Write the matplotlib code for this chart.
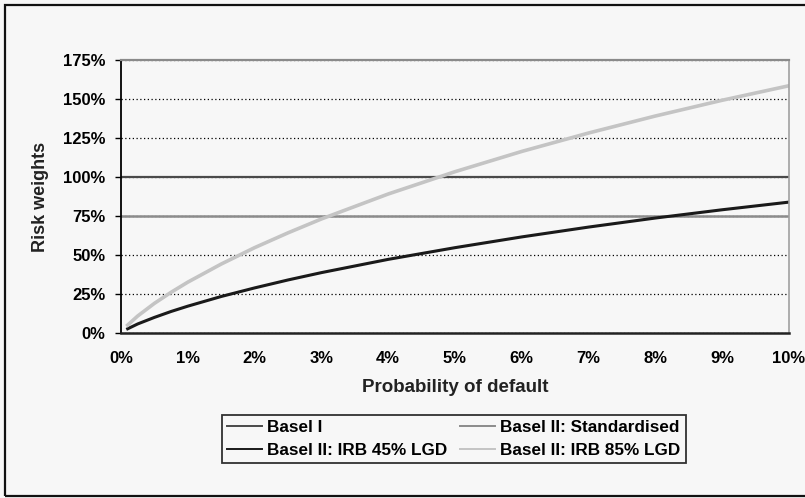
import matplotlib.pyplot as plt
from matplotlib.patches import Rectangle
from matplotlib.ticker import FuncFormatter, MultipleLocator

# probability of default (%) and risk weights (%)
pd_pct = [0.1, 0.25, 0.5, 0.75, 1, 1.5, 2, 2.5, 3, 4, 5, 6, 7, 8, 9, 10]
irb_45 = [2.7, 5.8, 10.0, 13.8, 17.2, 23.4, 28.9, 34.0, 38.7, 47.2, 54.7, 61.6, 67.9, 73.7, 79.0, 83.9]
irb_85 = [5.1, 10.9, 19.0, 26.1, 32.6, 44.2, 54.7, 64.2, 73.1, 89.1, 103.4, 116.4, 128.2, 139.1, 149.2, 158.5]
flat_x = [0, 10]
basel_1 = [100, 100]
standardised = [75, 75]

plt.rcParams['font.family'] = ['Liberation Sans', 'DejaVu Sans']

fig = plt.figure(figsize=(8.05, 4.98), dpi=100, facecolor='#f7f7f7')
ax = fig.add_axes([121 / 805, 1 - 333 / 498, 668 / 805, 273 / 498], facecolor='#f7f7f7')

l1, = ax.plot(flat_x, basel_1, color='#4a4a4a', lw=1.6, label='Basel I')
l2, = ax.plot(flat_x, standardised, color='#8c8c8c', lw=1.8, label='Basel II: Standardised')
l3, = ax.plot(pd_pct, irb_45, color='#1a1a1a', lw=2.2, label='Basel II: IRB 45% LGD')
l4, = ax.plot(pd_pct, irb_85, color='#c4c4c4', lw=2.6, label='Basel II: IRB 85% LGD')

ax.set_xlim(0, 10)
ax.set_ylim(0, 175)
ax.xaxis.set_major_locator(MultipleLocator(1))
ax.yaxis.set_major_locator(MultipleLocator(25))
ax.xaxis.set_major_formatter(FuncFormatter(lambda v, _: f'{v:.0f}%'))
ax.yaxis.set_major_formatter(FuncFormatter(lambda v, _: f'{v:.0f}%'))
ax.tick_params(axis='y', length=4.5, width=1, direction='out', pad=6.5)
ax.tick_params(axis='x', length=0, pad=13)
for lab in ax.get_xticklabels() + ax.get_yticklabels():
    lab.set_fontsize(12)
    lab.set_fontweight('bold')

ax.grid(axis='y', color='black', linestyle=(0, (1, 2)), linewidth=0.9)
ax.set_axisbelow(True)

ax.spines['left'].set_color('black')
ax.spines['left'].set_linewidth(1.3)
ax.spines['bottom'].set_color('#222222')
ax.spines['bottom'].set_linewidth(1.8)
ax.spines['top'].set_color('#8a8a8a')
ax.spines['top'].set_linewidth(1.6)
ax.spines['right'].set_color('#a0a0a0')
ax.spines['right'].set_linewidth(1.2)

ax.set_xlabel('Probability of default', fontsize=13.5, fontweight='bold',
              color='#222222', labelpad=9)
ax.set_ylabel('Risk weights', fontsize=13, fontweight='bold',
              color='#222222', labelpad=10)

leg = fig.legend(handles=[l1, l3, l2, l4], ncol=2, fontsize=12.3,
                 loc='upper left', bbox_to_anchor=(222 / 805, 1 - 415 / 498),
                 frameon=True, fancybox=False, edgecolor='black',
                 facecolor='#f7f7f7', handlelength=2.05, handletextpad=0.3,
                 columnspacing=0.75, labelspacing=0.45, borderpad=0.3,
                 borderaxespad=0)
leg.get_frame().set_linewidth(1.3)
for t in leg.get_texts():
    t.set_fontweight('bold')
for h in leg.legend_handles:
    h.set_linewidth(1.4)

# outer chart border
fig.patches.append(Rectangle((5 / 805, 2 / 498), 1.0, 1 - 7 / 498, transform=fig.transFigure,
                             fill=False, edgecolor='#111111', linewidth=1.6))

fig.savefig('out.png', dpi=100, facecolor=fig.get_facecolor())
